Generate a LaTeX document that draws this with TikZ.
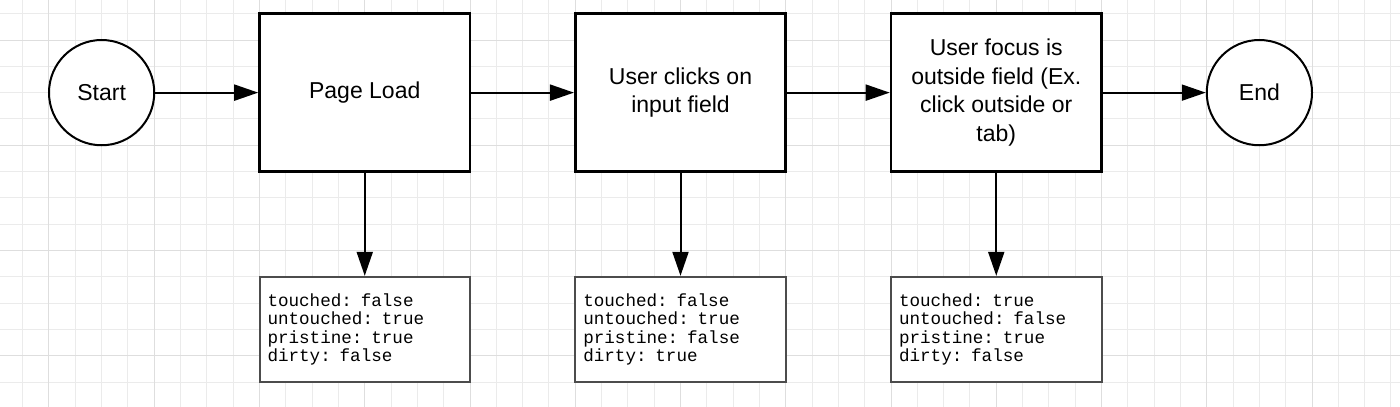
\documentclass[tikz,border=0pt]{standalone}
\usepackage{fontspec}
\setmainfont{Liberation Sans}
\setmonofont{Liberation Mono}
\usetikzlibrary{arrows.meta}
\definecolor{minorgrid}{HTML}{EBEBEB}
\definecolor{majorgrid}{HTML}{DEDEDE}

\begin{document}
\begin{tikzpicture}[x=26.3125pt, y=-26.3125pt,
    every node/.style={font=\fontsize{23}{28.8}\selectfont},
    startend/.style={circle, draw, fill=white, line width=2pt, minimum size=105.25pt, inner sep=0pt},
    stepbox/.style={rectangle, draw, fill=white, line width=2.6pt, minimum width=210.5pt, minimum height=157.9pt, align=center},
    statebox/.style={rectangle, draw=black!70, fill=white, line width=2pt, minimum height=105.25pt, text width=194.5pt, inner xsep=8pt, align=left, font=\ttfamily\fontsize{17.6}{18.2}\selectfont},
    arr/.style={-{Triangle[length=24pt, width=16pt]}, line width=2pt}]
  \useasboundingbox (-1.8622,-1.5202) rectangle (51.344,13.910);
  \clip (-1.8622,-1.5202) rectangle (51.344,13.910);

  % background grid
  \foreach \i in {-1,...,51}
    \draw [minorgrid, line width=1pt] (\i,-1.6) -- (\i,14);
  \foreach \j in {-1,...,13}
    \draw [minorgrid, line width=1pt] (-2,\j) -- (52,\j);
  \foreach \i in {0,4,...,48}
    \draw [majorgrid, line width=1pt] (\i,-1.6) -- (\i,14);
  \foreach \j in {0,4,...,12}
    \draw [majorgrid, line width=1pt] (-2,\j) -- (52,\j);

  \node [startend] (start) at (2, 2) {Start};
  \node [stepbox] (load) at (12, 2) {Page Load};
  \node [stepbox] (click) at (24, 2) {User clicks on\\input field};
  \node [stepbox] (blur) at (36, 2) {User focus is\\outside field (Ex.\\click outside or\\tab)};
  \node [startend] (end) at (46, 2) {End};

  \node [statebox] (loadstate) at (12, 11) {touched: false\\untouched: true\\pristine: true\\dirty: false};
  \node [statebox] (clickstate) at (24, 11) {touched: false\\untouched: true\\pristine: false\\dirty: true};
  \node [statebox] (blurstate) at (36, 11) {touched: true\\untouched: false\\pristine: true\\dirty: false};

  \draw [arr] (start) -- (load);
  \draw [arr] (load) -- (click);
  \draw [arr] (click) -- (blur);
  \draw [arr] (blur) -- (end);

  \draw [arr] (load) -- (loadstate);
  \draw [arr] (click) -- (clickstate);
  \draw [arr] (blur) -- (blurstate);
\end{tikzpicture}
\end{document}
